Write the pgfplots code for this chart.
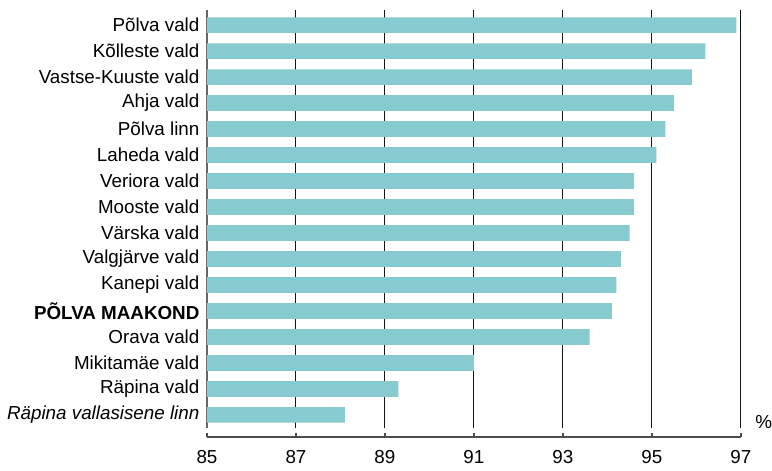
\documentclass[border=0pt]{standalone}
\usepackage{pgfplots}
\pgfplotsset{compat=1.18}
\usepackage{fontspec}
\setmainfont{Liberation Sans}
\definecolor{barcol}{RGB}{135,202,208}
\definecolor{gridc}{RGB}{20,20,20}
\begin{document}
\begin{tikzpicture}
\begin{axis}[
  scale only axis,
  width=267pt, height=213.5pt,
  xmin=85, xmax=97,
  ymin=-0.846, ymax=15.58,
  axis x line=bottom,
  axis y line=left,
  x axis line style={-, draw=black!70, line width=0.6pt},
  y axis line style={draw=none},
  xtick={85,87,...,97},
  xtick align=inside,
  xtick style={draw=black!70, line width=0.6pt, yshift=0pt},
  major tick length=2.2pt,
  ytick={0,...,15},
  ytick style={draw=none},
  yticklabels={\textit{Räpina vallasisene linn}, Räpina vald, Mikitamäe vald, Orava vald, \textbf{PÕLVA MAAKOND}, Kanepi vald, Valgjärve vald, Värska vald, Mooste vald, Veriora vald, Laheda vald, Põlva linn, Ahja vald, Vastse-Kuuste vald, Kõlleste vald, Põlva vald},
  tick label style={font=\fontsize{9.4}{11}\selectfont},
  yticklabel style={inner sep=0pt, anchor=east, xshift=-2.5pt},
  xticklabel style={yshift=-3.2pt},
  /pgf/number format/assume math mode=true,
  clip=false,
]
\foreach \g in {87,89,91,93,95,97} {
  \edef\tmp{\noexpand\draw[gridc, line width=0.5pt] (axis cs:\g,-0.5) -- (axis cs:\g,15.58);}
  \tmp
}
\draw[black!60, line width=0.6pt] (axis cs:85,-0.5) -- (axis cs:85,15.58);
\addplot[xbar, bar width=0.6, fill=barcol, draw=none, bar shift=0pt] coordinates {
(88.1,0) (89.3,1) (91.0,2) (93.6,3) (94.1,4) (94.2,5) (94.3,6) (94.5,7)
(94.6,8) (94.6,9) (95.1,10) (95.3,11) (95.5,12) (95.9,13) (96.2,14) (96.9,15)
};
\node[anchor=west, inner sep=0pt, font=\fontsize{9.4}{11}\selectfont] at ([xshift=7pt]axis cs:97,-0.27) {\%};
\coordinate (sw) at (rel axis cs:0,0);
\coordinate (ne) at (rel axis cs:1,1);
\end{axis}
\path ([shift={(-103.5pt,-13.5pt)}]sw) rectangle ([shift={(15.5pt,5pt)}]ne);
\end{tikzpicture}
\end{document}
